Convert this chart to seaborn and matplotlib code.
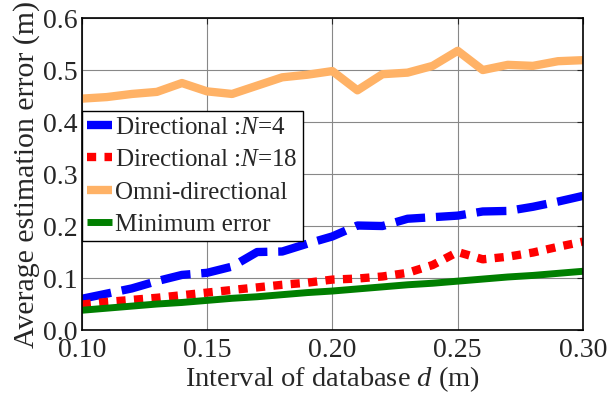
import numpy as np
import pandas as pd
import matplotlib
matplotlib.use("Agg")
import matplotlib.pyplot as plt
import seaborn as sns

interval = [0.10, 0.11, 0.12, 0.13, 0.14, 0.15, 0.16, 0.17, 0.18, 0.19, 0.20,
            0.21, 0.22, 0.23, 0.24, 0.25, 0.26, 0.27, 0.28, 0.29, 0.30]
dir_n4 = [0.060, 0.070, 0.080, 0.094, 0.106, 0.110, 0.122, 0.150, 0.151, 0.166, 0.180,
          0.201, 0.200, 0.214, 0.217, 0.220, 0.228, 0.229, 0.237, 0.247, 0.258]
dir_n18 = [0.049, 0.054, 0.058, 0.062, 0.067, 0.072, 0.077, 0.082, 0.087, 0.091, 0.097,
           0.099, 0.103, 0.110, 0.125, 0.150, 0.136, 0.141, 0.149, 0.160, 0.170]
omni = [0.445, 0.448, 0.454, 0.458, 0.475, 0.459, 0.454, 0.470, 0.486, 0.491, 0.498,
        0.461, 0.492, 0.495, 0.508, 0.537, 0.500, 0.510, 0.508, 0.517, 0.519]
min_err = [0.038, 0.042, 0.046, 0.050, 0.053, 0.057, 0.061, 0.064, 0.068, 0.072, 0.075,
           0.079, 0.083, 0.087, 0.090, 0.094, 0.098, 0.102, 0.105, 0.109, 0.113]

labels = ["Directional :$\\it{N}$=4", "Directional :$\\it{N}$=18",
          "Omni-directional", "Minimum error"]
xticks = [0.10, 0.15, 0.20, 0.25, 0.30]
yticks = [0.0, 0.1, 0.2, 0.3, 0.4, 0.5, 0.6]

sns.set_style("white")
plt.rcParams['font.family'] = ['Liberation Serif', 'DejaVu Serif']
plt.rcParams['mathtext.fontset'] = 'custom'
plt.rcParams['mathtext.rm'] = 'Liberation Serif'
plt.rcParams['mathtext.it'] = 'Liberation Serif:italic'

fig = plt.figure(figsize=(6.11, 4.01), dpi=100)
ax = fig.add_axes([0.1337, 0.177, 0.8205, 0.778])

series = [dir_n4, dir_n18, omni, min_err]
colors = ["#0000FF", "#FF0000", "#FFB266", "#007F00"]
dashes = [(3.6, 1.3), (1.1, 1.0), None, None]
lws = [6.0, 6.0, 6.0, 5.0]
handles = []
for vals, lab, col, ds, lw in zip(series, labels, colors, dashes, lws):
    df = pd.DataFrame({"x": interval, "y": vals})
    sns.lineplot(data=df, x="x", y="y", ax=ax, color=col, linewidth=lw, label=lab)
    line = ax.lines[-1]
    line.set_solid_capstyle('butt')
    line.set_dash_capstyle('butt')
    if ds is not None:
        line.set_dashes(ds)
    handles.append(line)

ax.set_xlim(0.10, 0.30)
ax.set_ylim(0.0, 0.6)
ax.set_xticks(xticks)
ax.set_xticklabels([f"{t:.2f}" for t in xticks])
ax.set_yticks(yticks)
ax.set_yticklabels([f"{t:.1f}" for t in yticks])
ax.grid(True, color="#888888", linewidth=0.8)
ax.tick_params(direction='in', length=4, width=0.8, top=True, right=True)
ax.tick_params(axis='x', labelsize=20, pad=6)
ax.tick_params(axis='y', labelsize=20, pad=3)
for s in ax.spines.values():
    s.set_color('black')
    s.set_linewidth(1.2)

ax.set_xlabel("Interval of database $\\it{d}$ (m)", fontsize=20.5, labelpad=1)
ax.set_ylabel("Average estimation error (m)", fontsize=21.5, labelpad=2)

leg = ax.legend(handles=handles, labels=labels, loc='upper left',
                bbox_to_anchor=(0.0, 0.702), borderaxespad=0, fancybox=False,
                edgecolor='black', framealpha=1, fontsize=18, handlelength=1.0,
                handletextpad=0.15, labelspacing=0.4, borderpad=0.2)
leg.get_frame().set_linewidth(1.0)

fig.savefig("out.png", dpi=100)
